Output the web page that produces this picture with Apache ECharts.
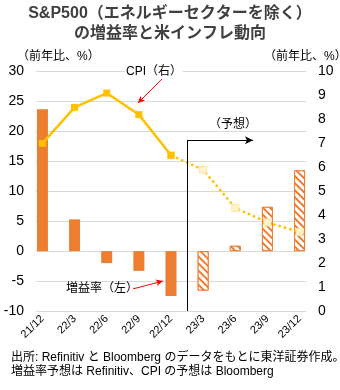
<!DOCTYPE html>
<html>
<head>
<meta charset="utf-8">
<script src="https://cdn.jsdelivr.net/npm/echarts@6/dist/echarts.min.js"></script>
<style>
  html, body { margin: 0; padding: 0; background: #fff; }
  #chart { width: 340px; height: 390px; }
</style>
</head>
<body>
<div id="chart"></div>
<script>
// Quarter labels along the horizontal axis
const quarters = ['21/12', '22/3', '22/6', '22/9', '22/12', '23/3', '23/6', '23/9', '23/12'];
// Earnings growth (YoY %, left axis); the last four quarters are forecasts
const earningsGrowth = [23.7, 5.3, -2.0, -3.3, -7.5, -6.6, 0.9, 7.4, 13.5];
const forecastStart = 5;
// US CPI (YoY %, right axis): actual through 22/12, forecast afterwards
const cpiActual = [7.0, 8.5, 9.1, 8.2, 6.5];
const cpiForecast = [6.5, 5.9, 4.3, 3.7, 3.3];
// Tick values
const leftTicks = [-10, -5, 0, 5, 10, 15, 20, 25, 30];
const rightTicks = [0, 1, 2, 3, 4, 5, 6, 7, 8, 9, 10];

const FONT = '"Liberation Sans", "Noto Sans CJK JP", sans-serif';
const ORANGE = '#ED7D31';
const GOLD = '#FFC000';

// Boundary between actual and forecast quarters
const splitX = forecastStart - 0.5;

const barData = earningsGrowth.map((v, i) => {
  if (i < forecastStart) return { value: [i, v] };
  return {
    value: [i, v],
    itemStyle: {
      color: '#ffffff',
      borderColor: ORANGE,
      borderWidth: 1,
      decal: {
        symbol: 'rect',
        symbolSize: 1,
        color: ORANGE,
        backgroundColor: '#ffffff',
        dashArrayX: [1, 0],
        dashArrayY: [2, 2.5],
        rotation: Math.PI / 4
      }
    }
  };
});
const cpiActualData = cpiActual.map((v, i) => [i, v]);
const cpiForecastData = cpiForecast.map((v, i) => [i + forecastStart - 1, v]);

const chart = echarts.init(document.getElementById('chart'), null, { renderer: 'canvas' });

chart.setOption({
  backgroundColor: '#ffffff',
  animation: false,
  textStyle: { fontFamily: FONT },
  grid: { left: 36, right: 34, top: 71.5, bottom: 79, containLabel: false },
  xAxis: {
    type: 'value',
    min: -0.2,
    max: 8.2,
    axisLine: { show: false },
    axisTick: { show: false },
    splitLine: { show: false },
    axisLabel: {
      customValues: quarters.map((q, i) => i),
      formatter: v => quarters[Math.round(v)],
      rotate: 45,
      fontSize: 11,
      color: '#000',
      fontFamily: FONT,
      margin: 6
    }
  },
  yAxis: [
    {
      type: 'value',
      min: -10,
      max: 30,
      interval: 5,
      axisLine: { show: false },
      axisTick: { show: false },
      axisLabel: { fontSize: 14, color: '#000', margin: 12, fontFamily: FONT,
        customValues: leftTicks },
      splitLine: { lineStyle: { color: '#D9D9D9', width: 1 } }
    },
    {
      type: 'value',
      min: 0,
      max: 10,
      interval: 1,
      axisLine: { show: false },
      axisTick: { show: false },
      axisLabel: { fontSize: 14, color: '#000', margin: 12, fontFamily: FONT,
        customValues: rightTicks },
      splitLine: { show: false }
    }
  ],
  series: [
    {
      name: '増益率',
      type: 'bar',
      yAxisIndex: 0,
      barWidth: 11,
      itemStyle: { color: ORANGE },
      data: barData,
      markLine: {
        silent: true,
        symbol: ['none', 'none'],
        label: { show: false },
        lineStyle: { color: '#000', width: 1, type: 'solid' },
        data: [
          [{ coord: [splitX, -10] }, { coord: [splitX, 18.5] }],
          [{ coord: [splitX, 18.5] }, { coord: [6.55, 18.5], symbol: 'arrow', symbolSize: [6, 8] }],
          [{ coord: [2.82, -6.3], lineStyle: { color: '#FF0000' } },
           { coord: [3.75, -5.0], symbol: 'arrow', symbolSize: [5, 7], lineStyle: { color: '#FF0000' } }]
        ]
      }
    },
    {
      name: 'CPI',
      type: 'line',
      yAxisIndex: 1,
      data: cpiActualData,
      symbol: 'rect',
      symbolSize: 7,
      lineStyle: { color: GOLD, width: 2.5 },
      itemStyle: { color: GOLD },
      z: 5,
      markLine: {
        silent: true,
        symbol: ['none', 'arrow'],
        symbolSize: [5, 7],
        label: { show: false },
        lineStyle: { color: '#FF0000', width: 1, type: 'solid' },
        data: [
          [{ coord: [3.75, 9.73] }, { coord: [2.97, 8.68] }]
        ]
      }
    },
    {
      name: 'CPI予想',
      type: 'line',
      yAxisIndex: 1,
      data: cpiForecastData,
      symbol: 'rect',
      symbolSize: 7,
      showSymbol: true,
      lineStyle: { color: GOLD, width: 2.5, type: [2.5, 3] },
      itemStyle: { color: '#FFF2CC', borderColor: '#FFE699', borderWidth: 1 },
      z: 4
    }
  ],
  graphic: [
    { type: 'text', left: 'center', top: 6,
      style: { text: 'S&P500（エネルギーセクターを除く）', font: 'bold 16px ' + FONT, fill: '#404040' } },
    { type: 'text', left: 'center', top: 26,
      style: { text: 'の増益率と米インフレ動向', font: 'bold 16px ' + FONT, fill: '#404040' } },
    { type: 'text', x: 17, y: 51,
      style: { text: '（前年比、%）', font: '12px ' + FONT, fill: '#000' } },
    { type: 'text', x: 264, y: 51,
      style: { text: '（前年比、%）', font: '12px ' + FONT, fill: '#000' } },
    { type: 'text', x: 154, y: 72, z: 10,
      style: { text: 'CPI（右）', font: '12px ' + FONT, fill: '#000', align: 'center',
        verticalAlign: 'middle', backgroundColor: '#fff', padding: [1, 1] } },
    { type: 'text', x: 102, y: 289, z: 10,
      style: { text: '増益率（左）', font: '12px ' + FONT, fill: '#000', align: 'center',
        verticalAlign: 'middle' } },
    { type: 'text', x: 233, y: 125, z: 10,
      style: { text: '（予想）', font: '12px ' + FONT, fill: '#000', align: 'center',
        verticalAlign: 'middle' } },
    { type: 'text', x: 11, y: 351,
      style: { text: '出所: Refinitiv と Bloomberg のデータをもとに東洋証券作成。\n増益率予想は Refinitiv、CPI の予想は Bloomberg',
        font: '12px ' + FONT, fill: '#000', lineHeight: 14 } }
  ]
});
</script>
</body>
</html>
